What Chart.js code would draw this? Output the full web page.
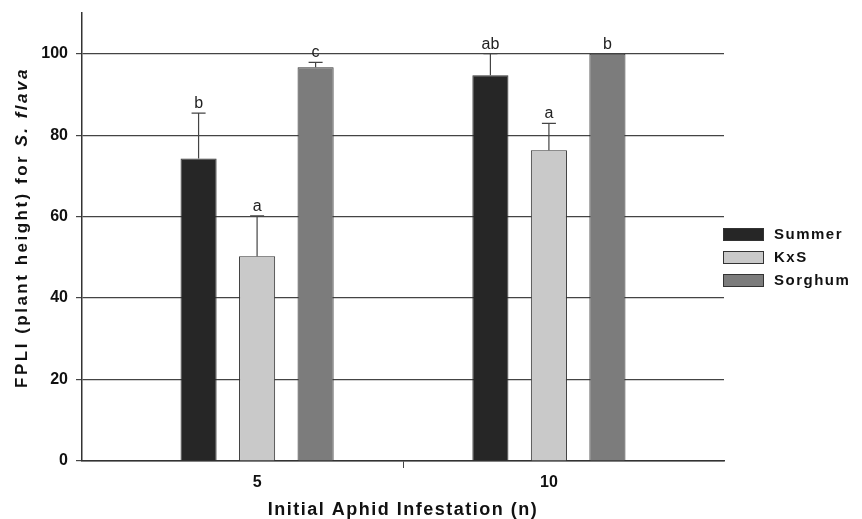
<!DOCTYPE html>
<html>
<head>
<meta charset="utf-8">
<script src="https://cdn.jsdelivr.net/npm/chart.js@4.4.1/dist/chart.umd.min.js"></script>
<style>
  html, body { margin: 0; padding: 0; background: #fff; }
  #wrap { width: 862px; height: 519px; position: relative; }
</style>
</head>
<body>
<div id="wrap"><canvas id="grafico"></canvas></div>
<script>
// Dados
const grupos = [5, 10];
const separador = 7.5;
const nomesSeries = ['Summer', 'KxS', 'Sorghum'];
const summer = [74.3, 94.7];
const kxs = [50.3, 76.3];
const sorghum = [96.7, 100];
const summerErro = [11.1, 5.3];
const kxsErro = [9.9, 6.6];
const sorghumErro = [1.2, 0];
const summerLetras = ['b', 'ab'];
const kxsLetras = ['a', 'a'];
const sorghumLetras = ['c', 'b'];
const ticksY = [0, 20, 40, 60, 80, 100];
const coresSeries = ['#262626', '#c9c9c9', '#7c7c7c'];

const FONTE = '"Liberation Sans", Arial, sans-serif';

function montarDataset(nome, valores, erros, letras, cor) {
    return {
        label: nome,
        data: valores.map((v, i) => ({ x: grupos[i], y: v })),
        erros: erros,
        letras: letras,
        backgroundColor: cor,
        borderColor: '#333',
        borderWidth: 1,
        barPercentage: 0.617,
        categoryPercentage: 1.203
    };
}

// Barras de erro e letras
const pluginErros = {
    id: 'erros',
    afterDatasetsDraw(chart) {
        const ctx = chart.ctx;
        const y = chart.scales.y;
        ctx.save();
        chart.data.datasets.forEach((ds, di) => {
            const meta = chart.getDatasetMeta(di);
            meta.data.forEach((bar, i) => {
                const v = ds.data[i].y;
                const topo = y.getPixelForValue(v + ds.erros[i]);
                ctx.strokeStyle = '#444';
                ctx.lineWidth = 1.2;
                if (ds.erros[i] > 0) {
                    ctx.beginPath();
                    ctx.moveTo(bar.x, bar.y);
                    ctx.lineTo(bar.x, topo);
                    ctx.moveTo(bar.x - 7, topo);
                    ctx.lineTo(bar.x + 7, topo);
                    ctx.stroke();
                }
                ctx.fillStyle = '#222';
                ctx.font = '16px ' + FONTE;
                ctx.textAlign = 'center';
                ctx.textBaseline = 'alphabetic';
                ctx.fillText(ds.letras[i], bar.x, topo - 5);
            });
        });
        ctx.restore();
    }
};

// Títulos dos eixos e legenda
const pluginTextos = {
    id: 'textos',
    afterDraw(chart) {
        const ctx = chart.ctx;
        ctx.save();
        ctx.fillStyle = '#111';

        // Eixo X
        ctx.letterSpacing = '1.5px';
        ctx.font = 'bold 18px ' + FONTE;
        ctx.textAlign = 'center';
        ctx.textBaseline = 'alphabetic';
        ctx.fillText('Initial Aphid Infestation (n)', 403, 515);

        // Eixo Y (com S. flava em itálico)
        ctx.letterSpacing = '2.5px';
        const parte1 = 'FPLI (plant height) for ';
        const parte2 = 'S. flava';
        ctx.font = 'bold 17px ' + FONTE;
        const w1 = ctx.measureText(parte1).width;
        ctx.font = 'italic bold 17px ' + FONTE;
        const w2 = ctx.measureText(parte2).width;
        ctx.translate(27, 227.5);
        ctx.rotate(-Math.PI / 2);
        ctx.textAlign = 'left';
        let x0 = -(w1 + w2) / 2;
        ctx.font = 'bold 17px ' + FONTE;
        ctx.fillText(parte1, x0, 0);
        ctx.font = 'italic bold 17px ' + FONTE;
        ctx.fillText(parte2, x0 + w1, 0);
        ctx.restore();

        // Legenda
        ctx.save();
        ctx.letterSpacing = '1.5px';
        ctx.font = 'bold 15px ' + FONTE;
        ctx.textAlign = 'left';
        ctx.textBaseline = 'middle';
        chart.data.datasets.forEach((ds, i) => {
            const by = 228 + i * 23;
            ctx.fillStyle = ds.backgroundColor;
            ctx.fillRect(723, by, 41, 13);
            ctx.strokeStyle = '#333';
            ctx.lineWidth = 1;
            ctx.strokeRect(723.5, by + 0.5, 40, 12);
            ctx.fillStyle = '#111';
            ctx.fillText(ds.label, 774, by + 7);
        });
        ctx.restore();
    }
};

const ctxGrafico = document.getElementById('grafico').getContext('2d');
new Chart(ctxGrafico, {
    type: 'bar',
    data: {
        datasets: [
            montarDataset(nomesSeries[0], summer, summerErro, summerLetras, coresSeries[0]),
            montarDataset(nomesSeries[1], kxs, kxsErro, kxsLetras, coresSeries[1]),
            montarDataset(nomesSeries[2], sorghum, sorghumErro, sorghumLetras, coresSeries[2])
        ]
    },
    options: {
        responsive: true,
        maintainAspectRatio: false,
        animation: false,
        layout: { padding: { top: 13, right: 138, left: 0, bottom: 0 } },
        plugins: {
            legend: { display: false },
            tooltip: { enabled: false }
        },
        scales: {
            x: {
                type: 'linear',
                offset: false,
                min: 2,
                max: 13,
                afterBuildTicks(scale) {
                    scale.ticks = [grupos[0], separador, grupos[1]].map(v => ({ value: v }));
                },
                afterFit(scale) {
                    scale.height = 58;
                    scale.paddingLeft = 0;
                    scale.paddingRight = 0;
                },
                ticks: {
                    autoSkip: false,
                    maxRotation: 0,
                    padding: 5,
                    color: '#111',
                    font: { family: FONTE, size: 16, weight: 'bold' },
                    callback: v => (v === separador ? '' : String(v))
                },
                grid: {
                    offset: false,
                    drawOnChartArea: false,
                    tickLength: 7,
                    tickColor: c => (c.tick && c.tick.value === separador ? '#444' : 'rgba(0,0,0,0)')
                },
                border: { color: '#333', width: 1.5 }
            },
            y: {
                min: 0,
                max: 110,
                afterBuildTicks(scale) {
                    scale.ticks = ticksY.map(v => ({ value: v }));
                },
                afterFit(scale) {
                    scale.width = 82;
                    scale.paddingTop = 0;
                    scale.paddingBottom = 0;
                },
                ticks: {
                    padding: 8,
                    color: '#111',
                    font: { family: FONTE, size: 16, weight: 'bold' }
                },
                grid: {
                    color: '#444',
                    lineWidth: 1.2,
                    tickLength: 6
                },
                border: { color: '#333', width: 1.5 }
            }
        }
    },
    plugins: [pluginErros, pluginTextos]
});
</script>
</body>
</html>
